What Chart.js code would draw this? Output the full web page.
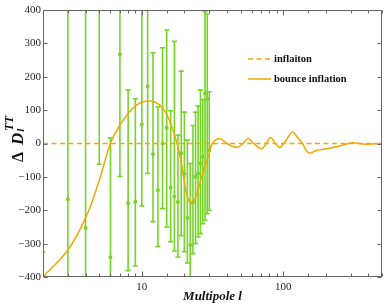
<!DOCTYPE html>
<html>
<head>
<meta charset="utf-8">
<script src="https://cdn.jsdelivr.net/npm/chart.js@4/dist/chart.umd.min.js"></script>
<style>
  html, body { margin: 0; padding: 0; background: #fff; }
</style>
</head>
<body>
<canvas id="cmbChart" width="391" height="307"></canvas>
<script>
// multipoles of the measured points
const ells = [2, 3, 4, 5, 6, 7, 8, 9, 10, 11, 12, 13, 14, 15, 16, 17, 18, 19, 20,
  21, 22, 23, 24, 25, 26, 27, 28, 29, 30];
// residual values and lower / upper ends of the error bars
const obsValues = [-650, -167, -253, 500, -341, 267, -179, -175, 57, 171, -32, -140, 0, 47,
  -132, -159, -175, -29, -90, -223, -304, -177, -100, -90, -60, -40, 150, 133, -20];
const obsLower = [-1000, -1000, -1000, -62, -1000, -99, -381, -367, -187, -90, -234, -309, -195,
  -250, -294, -322, -340, -276, -324, -358, -450, -330, -300, -280, -270, -240, -230, -210, -200];
const obsUpper = [-326, 1000, 1000, 1000, 17, 1000, 160, 134, 1000, 1000, 272, 110, 287, 340,
  98, 306, 25, 217, 94, 10, -60, 54, 94, 112, 160, 132, 395, 388, 155];

// bounce inflation curve
const curveL = [2, 3, 4, 5, 6, 7, 8.2, 9.6, 11.6, 13.4, 14.9, 16.6, 18, 19, 20, 21, 22.4, 23.5,
  25, 27.8, 30, 31.5, 35.6, 40, 46.7, 52, 56.5, 62, 70, 76, 81.5, 88, 95, 105, 116, 125, 137,
  145, 154, 171, 213, 279, 310, 385, 500];
const curveD = [-400, -319, -223, -110, 0, 55, 95, 120, 127, 115, 90, 40, -10, -55, -115, -160,
  -179, -170, -139, -69, -30, 0, 15, 0, -12, 0, 15, 0, -16, 0, 18, 0, -12, 10, 34, 20, 0,
  -20, -29, -21, -14, -2, 2, -2, 0];

// inflaton reference line
const flatL = [2, 500];
const flatD = [0, 0];

const xTickLabels = [10, 100];
const yTicks = [-400, -300, -200, -100, 0, 100, 200, 300, 400];

const green = "#76d52b";
const orange = "#f2a800";
const serif = '"Liberation Serif", "Times New Roman", serif';

const toPoints = (xs, ys) => xs.map((x, i) => ({ x: x, y: ys[i] }));

// error bars, drawn through the chart scales
const errorBars = {
  id: "errorBars",
  beforeDatasetsDraw(chart) {
    const { ctx, chartArea: a, scales: { x, y } } = chart;
    ctx.save();
    ctx.beginPath();
    ctx.rect(a.left, a.top, a.right - a.left, a.bottom - a.top);
    ctx.clip();
    ctx.strokeStyle = green;
    ctx.lineWidth = 1.6;
    ells.forEach((l, i) => {
      const px = x.getPixelForValue(l);
      const lo = y.getPixelForValue(obsLower[i]);
      const hi = y.getPixelForValue(obsUpper[i]);
      ctx.beginPath();
      ctx.moveTo(px, lo);
      ctx.lineTo(px, hi);
      ctx.moveTo(px - 2.5, lo);
      ctx.lineTo(px + 2.5, lo);
      ctx.moveTo(px - 2.5, hi);
      ctx.lineTo(px + 2.5, hi);
      ctx.stroke();
    });
    ctx.restore();
  },
};

// box frame with inward ticks on all four sides
const frameTicks = {
  id: "frameTicks",
  afterDraw(chart) {
    const { ctx, chartArea: a, scales: { x, y } } = chart;
    const l = Math.round(a.left) + 0.5, r = Math.round(a.right) - 0.5;
    const t = Math.round(a.top) + 0.5, b = Math.round(a.bottom) - 0.5;
    ctx.save();
    ctx.strokeStyle = "#666";
    ctx.lineWidth = 1;
    ctx.strokeRect(l, t, r - l, b - t);
    ctx.beginPath();
    x.ticks.forEach((tk) => {
      const px = Math.round(x.getPixelForValue(tk.value)) + 0.5;
      const len = xTickLabels.some((v) => Math.abs(v - tk.value) < 1e-6) ? 5 : 3;
      ctx.moveTo(px, b); ctx.lineTo(px, b - len);
      ctx.moveTo(px, t); ctx.lineTo(px, t + len);
    });
    yTicks.forEach((v) => {
      const py = Math.round(y.getPixelForValue(v)) + 0.5;
      ctx.moveTo(l, py); ctx.lineTo(l + 4, py);
      ctx.moveTo(r, py); ctx.lineTo(r - 4, py);
    });
    ctx.stroke();
    ctx.restore();
  },
};

// axis titles
const axisTitles = {
  id: "axisTitles",
  afterDraw(chart) {
    const { ctx, chartArea: a } = chart;
    ctx.save();
    ctx.fillStyle = "#111";
    ctx.font = "italic bold 13px " + serif;
    ctx.textAlign = "center";
    ctx.textBaseline = "alphabetic";
    ctx.fillText("Multipole l", (a.left + a.right) / 2, 300);

    ctx.translate(23, 162);
    ctx.rotate(-Math.PI / 2);
    ctx.textAlign = "left";
    let px = 0;
    ctx.font = "bold 16px " + serif;
    ctx.fillText("\u0394", px, 0);
    px += ctx.measureText("\u0394").width + 7;
    ctx.font = "italic bold 17px " + serif;
    ctx.fillText("D", px, 0);
    px += ctx.measureText("D").width + 1;
    ctx.font = "italic bold 11px " + serif;
    ctx.fillText("l", px, 1);
    ctx.font = "italic bold 12px " + serif;
    ctx.fillText("TT", px + 1, -10);
    ctx.restore();
  },
};

// legend inside the plot
const insideLegend = {
  id: "insideLegend",
  afterDraw(chart) {
    const { ctx } = chart;
    const items = [
      { label: chart.data.datasets[1].label, dash: [5, 3.5], y: 59 },
      { label: chart.data.datasets[0].label, dash: [], y: 79 },
    ];
    ctx.save();
    items.forEach((it) => {
      ctx.strokeStyle = orange;
      ctx.lineWidth = 1.5;
      ctx.setLineDash(it.dash);
      ctx.beginPath();
      ctx.moveTo(248, it.y);
      ctx.lineTo(271, it.y);
      ctx.stroke();
      ctx.setLineDash([]);
      ctx.fillStyle = "#111";
      ctx.font = "bold 10.5px " + serif;
      ctx.textBaseline = "middle";
      ctx.fillText(it.label, 274, it.y);
    });
    ctx.restore();
  },
};

const ctx = document.getElementById("cmbChart").getContext("2d");
const chart = new Chart(ctx, {
  type: "scatter",
  data: {
    datasets: [
      {
        label: "bounce inflation",
        data: toPoints(curveL, curveD),
        showLine: true,
        borderColor: orange,
        borderWidth: 1.5,
        pointRadius: 0,
        tension: 0.4,
      },
      {
        label: "inflaiton",
        data: toPoints(flatL, flatD),
        showLine: true,
        borderColor: orange,
        borderWidth: 1.5,
        borderDash: [5, 3.5],
        pointRadius: 0,
      },
      {
        label: "data",
        data: toPoints(ells, obsValues),
        backgroundColor: green,
        borderColor: green,
        pointRadius: 1.8,
        pointStyle: "rect",
      },
    ],
  },
  options: {
    responsive: false,
    animation: false,
    layout: { padding: { left: 0, top: 10, right: 9, bottom: 0 } },
    plugins: { legend: { display: false }, tooltip: { enabled: false } },
    scales: {
      x: {
        type: "logarithmic",
        min: 2,
        max: 500,
        grid: { display: false, drawTicks: false },
        border: { display: false },
        ticks: {
          autoSkip: false,
          maxRotation: 0,
          padding: 4,
          color: "#222",
          font: { family: serif, size: 11 },
          callback: (v) => (xTickLabels.some((t) => Math.abs(t - v) < 1e-6) ? String(v) : ""),
        },
        afterFit: (s) => { s.height = 30; },
      },
      y: {
        min: -400,
        max: 400,
        grid: { display: false, drawTicks: false },
        border: { display: false },
        ticks: {
          stepSize: 100,
          padding: 2,
          color: "#222",
          font: { family: serif, size: 11 },
          callback: (v) => String(v).replace("-", "\u2212"),
        },
        afterFit: (s) => { s.width = 43; },
      },
    },
  },
  plugins: [errorBars, frameTicks, axisTitles, insideLegend],
});
</script>
</body>
</html>
